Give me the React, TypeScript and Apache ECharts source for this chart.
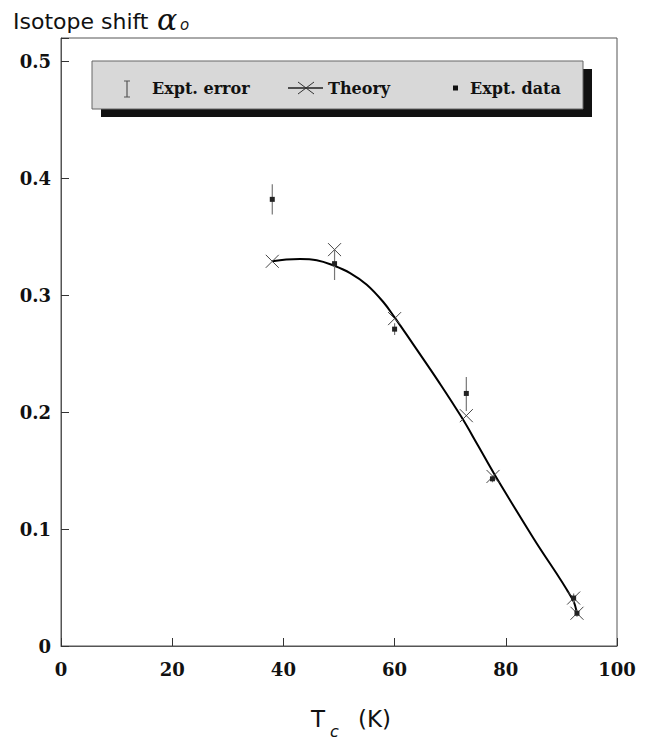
import React, { useEffect, useRef } from "react";
import * as echarts from "echarts";

// Transition temperature (K) and isotope-shift exponent, theory points
const tcTheory = [38.0, 49.2, 60.0, 72.9, 77.7, 92.2, 92.8];
const alphaTheory = [0.329, 0.339, 0.28, 0.197, 0.145, 0.041, 0.028];

// Experimental points with their error ranges
const tcExpt = [38.0, 49.2, 60.0, 72.9, 77.6, 92.2, 92.8];
const alphaExpt = [0.382, 0.327, 0.271, 0.216, 0.143, 0.041, 0.028];
const alphaErrLow = [0.369, 0.313, 0.266, 0.201, 0.14, 0.037, 0.025];
const alphaErrHigh = [0.395, 0.339, 0.276, 0.23, 0.146, 0.045, 0.031];

// Smooth theoretical curve
const fitTc = [38, 40.5, 43, 46, 49, 52, 55, 58, 60, 64, 68, 72, 75, 78, 85, 92, 92.8];
const fitAlpha = [
  0.329, 0.3305, 0.331, 0.33, 0.3255, 0.319, 0.309, 0.294, 0.281, 0.2535, 0.2255,
  0.196, 0.1715, 0.1465, 0.092, 0.04, 0.027,
];

// Axis ranges
const xRange = [0, 100];
const xStep = 20;
const yRange = [0, 0.52];
const yStep = 0.1;

const SERIF = "'DejaVu Serif', 'Liberation Serif', serif";
const SANS = "'DejaVu Sans', 'Liberation Sans', sans-serif";
const FRAME = "#555";

export default function App() {
  const ref = useRef<HTMLDivElement>(null);

  useEffect(() => {
    if (!ref.current) return;
    const chart = echarts.init(ref.current, undefined, { renderer: "svg" });

    const crossItem = (params: any, api: any) => {
      const p = api.coord([api.value(0), api.value(1)]);
      const h = 6.5;
      return {
        type: "group",
        children: [
          {
            type: "line",
            shape: { x1: p[0] - h, y1: p[1] - h, x2: p[0] + h, y2: p[1] + h },
            style: { stroke: "#444", lineWidth: 1 },
          },
          {
            type: "line",
            shape: { x1: p[0] - h, y1: p[1] + h, x2: p[0] + h, y2: p[1] - h },
            style: { stroke: "#444", lineWidth: 1 },
          },
        ],
      };
    };

    const exptItem = (params: any, api: any) => {
      const x = api.value(0);
      const p = api.coord([x, api.value(1)]);
      const lo = api.coord([x, api.value(2)]);
      const hi = api.coord([x, api.value(3)]);
      return {
        type: "group",
        children: [
          {
            type: "line",
            shape: { x1: hi[0], y1: hi[1], x2: lo[0], y2: lo[1] },
            style: { stroke: "#777", lineWidth: 1.2 },
          },
          {
            type: "rect",
            shape: { x: p[0] - 2.5, y: p[1] - 2.5, width: 5, height: 5 },
            style: { fill: "#222" },
          },
        ],
      };
    };

    const legendY = 88;

    chart.setOption({
      animation: false,
      backgroundColor: "#ffffff",
      grid: { left: 61, right: 36, top: 38, bottom: 96, show: true, borderColor: FRAME, borderWidth: 1 },
      xAxis: {
        type: "value",
        min: xRange[0],
        max: xRange[1],
        interval: xStep,
        axisLine: { show: true, lineStyle: { color: FRAME, width: 1 } },
        axisTick: { show: true, inside: true, length: 8, lineStyle: { color: "#333", width: 1 } },
        splitLine: { show: false },
        axisLabel: {
          margin: 14,
          color: "#111",
          fontFamily: SERIF,
          fontWeight: "bold",
          fontSize: 18,
        },
      },
      yAxis: {
        type: "value",
        min: yRange[0],
        max: yRange[1],
        interval: yStep,
        axisLine: { show: true, lineStyle: { color: FRAME, width: 1 } },
        axisTick: { show: true, inside: true, length: 8, lineStyle: { color: "#333", width: 1 } },
        splitLine: { show: false },
        axisLabel: {
          margin: 10,
          color: "#111",
          fontFamily: SERIF,
          fontWeight: "bold",
          fontSize: 18,
          formatter: (v: number) => {
            const k = v / yStep;
            if (Math.abs(k - Math.round(k)) > 1e-6) return "";
            return v === 0 ? "0" : v.toFixed(1);
          },
        },
      },
      series: [
        {
          type: "line",
          data: fitTc.map((t, i) => [t, fitAlpha[i]]),
          smooth: 0.4,
          showSymbol: false,
          symbol: "none",
          lineStyle: { color: "#000", width: 2 },
          z: 2,
        },
        {
          type: "custom",
          data: tcTheory.map((t, i) => [t, alphaTheory[i]]),
          encode: { x: 0, y: 1 },
          renderItem: crossItem,
          clip: false,
          z: 3,
        },
        {
          type: "custom",
          data: tcExpt.map((t, i) => [t, alphaExpt[i], alphaErrLow[i], alphaErrHigh[i]]),
          encode: { x: 0, y: 1 },
          renderItem: exptItem,
          clip: false,
          z: 4,
        },
      ],
      graphic: [
        // legend box with drop shadow
        { type: "rect", shape: { x: 101, y: 69, width: 491, height: 48 }, style: { fill: "#111" }, z: 10 },
        {
          type: "rect",
          shape: { x: 92, y: 61, width: 491, height: 48 },
          style: { fill: "#d8d8d8", stroke: "#666", lineWidth: 1 },
          z: 11,
        },
        // error-bar key
        { type: "line", shape: { x1: 127, y1: 81, x2: 127, y2: 97 }, style: { stroke: "#555", lineWidth: 1.2 }, z: 12 },
        { type: "line", shape: { x1: 124, y1: 81, x2: 130, y2: 81 }, style: { stroke: "#555", lineWidth: 1 }, z: 12 },
        { type: "line", shape: { x1: 124, y1: 97, x2: 130, y2: 97 }, style: { stroke: "#555", lineWidth: 1 }, z: 12 },
        {
          type: "text",
          x: 152,
          y: legendY,
          style: { text: "Expt. error", font: `bold 16px ${SERIF}`, fill: "#111", verticalAlign: "middle" },
          z: 12,
        },
        // theory key
        { type: "line", shape: { x1: 288, y1: legendY, x2: 323, y2: legendY }, style: { stroke: "#222", lineWidth: 1.5 }, z: 12 },
        { type: "line", shape: { x1: 298, y1: legendY - 6, x2: 314, y2: legendY + 6 }, style: { stroke: "#333", lineWidth: 1 }, z: 12 },
        { type: "line", shape: { x1: 298, y1: legendY + 6, x2: 314, y2: legendY - 6 }, style: { stroke: "#333", lineWidth: 1 }, z: 12 },
        {
          type: "text",
          x: 328,
          y: legendY,
          style: { text: "Theory", font: `bold 16px ${SERIF}`, fill: "#111", verticalAlign: "middle" },
          z: 12,
        },
        // data key
        { type: "rect", shape: { x: 453, y: legendY - 2.5, width: 5, height: 5 }, style: { fill: "#111" }, z: 12 },
        {
          type: "text",
          x: 470,
          y: legendY,
          style: { text: "Expt. data", font: `bold 16px ${SERIF}`, fill: "#111", verticalAlign: "middle" },
          z: 12,
        },
        // y-axis title
        {
          type: "text",
          x: 13,
          y: 21,
          style: { text: "Isotope shift", font: `22px ${SANS}`, fill: "#111", verticalAlign: "middle" },
        },
        {
          type: "text",
          x: 157,
          y: 19,
          style: { text: "α", font: `italic 30px ${SERIF}`, fill: "#111", verticalAlign: "middle" },
        },
        {
          type: "text",
          x: 180,
          y: 25,
          style: { text: "o", font: `italic 15px ${SANS}`, fill: "#111", verticalAlign: "middle" },
        },
        // x-axis title
        {
          type: "text",
          x: 311,
          y: 719,
          style: { text: "T", font: `23px ${SANS}`, fill: "#111", verticalAlign: "middle" },
        },
        {
          type: "text",
          x: 330,
          y: 731,
          style: { text: "c", font: `italic 16px ${SANS}`, fill: "#111", verticalAlign: "middle" },
        },
        {
          type: "text",
          x: 358,
          y: 719,
          style: { text: "(K)", font: `23px ${SANS}`, fill: "#111", verticalAlign: "middle" },
        },
      ],
    });

    return () => chart.dispose();
  }, []);

  return (
    <div
      ref={ref}
      style={{ position: "fixed", left: 0, top: 0, width: 653, height: 742, background: "#fff" }}
    />
  );
}
